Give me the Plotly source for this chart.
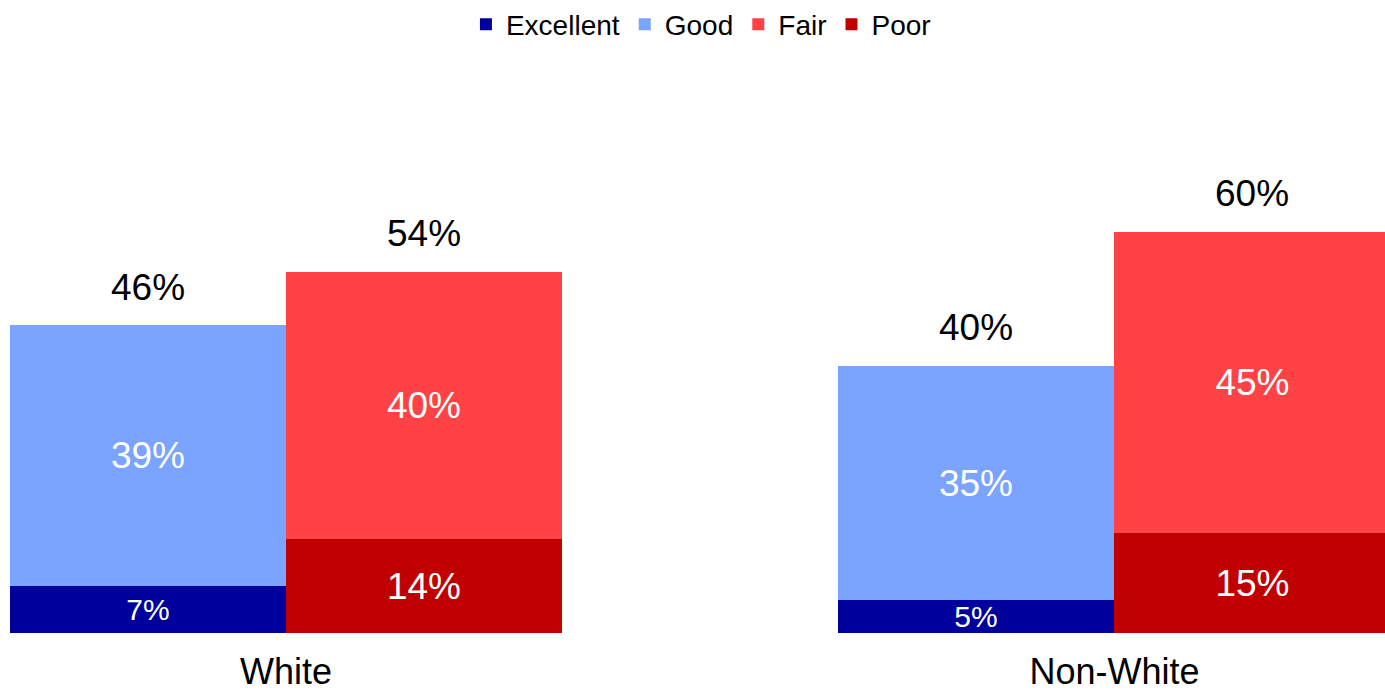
import plotly.graph_objects as go

groups = ["White", "Non-White"]
excellent = [7, 5]
good = [39, 35]
fair = [40, 45]
poor = [14, 15]

pos_x = [0, 3]   # positive (Excellent + Good) bar positions
neg_x = [1, 4]   # negative (Poor + Fair) bar positions
group_ticks = [0.5, 3.5]

colors = {"Excellent": "#00009c", "Good": "#7aa4ff", "Fair": "#ff4246", "Poor": "#c00000"}
FONT = "Liberation Sans, Arial, sans-serif"

fig = go.Figure()

def add_bar(name, x, vals, size, rank):
    fig.add_trace(go.Bar(
        name=name, x=x, y=vals, width=1,
        marker=dict(color=colors[name], line=dict(width=0)),
        text=[f"{v}%" for v in vals], textposition="inside",
        insidetextanchor="middle", constraintext="none",
        textfont=dict(color="white", size=size, family=FONT),
        legendrank=rank,
    ))

add_bar("Excellent", pos_x, excellent, 30, 1)
add_bar("Good", pos_x, good, 37, 2)
add_bar("Poor", neg_x, poor, 37, 4)
add_bar("Fair", neg_x, fair, 37, 3)

pos_tot = [a + b for a, b in zip(excellent, good)]
neg_tot = [a + b for a, b in zip(poor, fair)]
for x, t in list(zip(pos_x, pos_tot)) + list(zip(neg_x, neg_tot)):
    fig.add_annotation(x=x, y=t, text=f"{t}%", showarrow=False,
                       yanchor="middle", yshift=38,
                       font=dict(size=37, color="black", family=FONT))

fig.update_layout(
    width=1385, height=691,
    barmode="stack", bargap=0,
    plot_bgcolor="white", paper_bgcolor="white",
    margin=dict(l=10, r=0, t=165, b=58, autoexpand=False),
    font=dict(family=FONT, color="black"),
    legend=dict(orientation="h", x=0.5025, xanchor="center", y=1.3, yanchor="middle",
                font=dict(size=28), traceorder="normal", itemclick=False),
    xaxis=dict(range=[-0.5, 4.48], tickvals=group_ticks, ticktext=groups,
               showgrid=False, zeroline=False, showline=False, automargin=False,
               tickfont=dict(size=36), ticks="outside", ticklen=7,
               tickcolor="rgba(0,0,0,0)"),
    yaxis=dict(range=[0, 70], visible=False, automargin=False),
    showlegend=True,
)

fig.write_html("out.html", config={"displayModeBar": False},
               post_script="document.body.style.margin='0';")
